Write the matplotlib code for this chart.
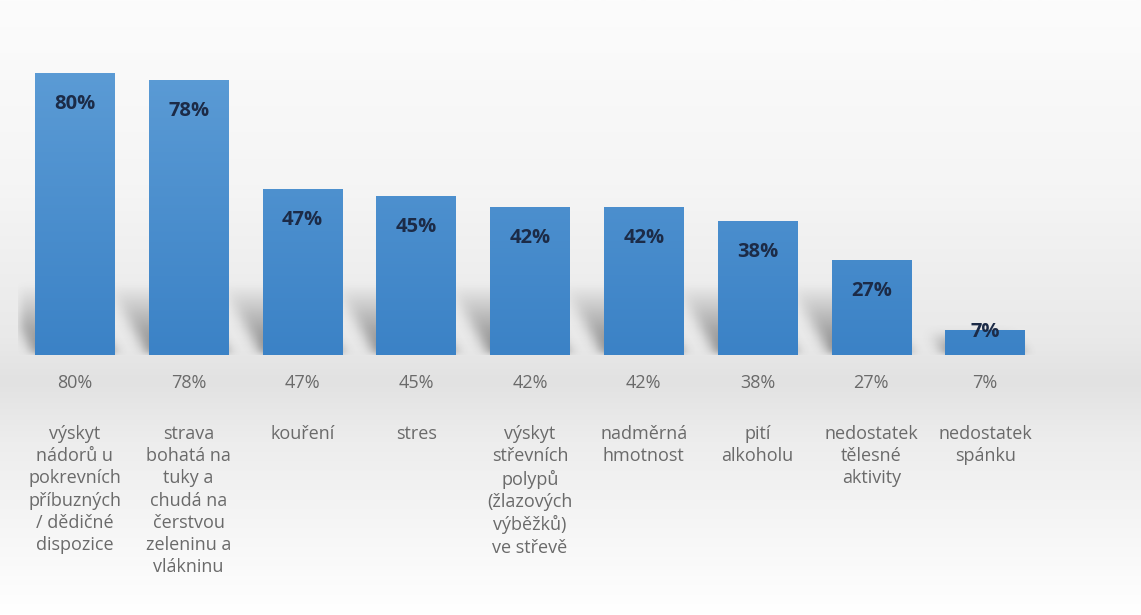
import matplotlib.pyplot as plt
import numpy as np
from matplotlib.colors import LinearSegmentedColormap

categories = [
    "výskyt\nnádorů u\npokrevních\npříbuzných\n/ dědičné\ndispozice",
    "strava\nbohatá na\ntuky a\nchudá na\nčerstvou\nzeleninu a\nvlákninu",
    "kouření",
    "stres",
    "výskyt\nstřevních\npolypů\n(žlazových\nvýběžků)\nve střevě",
    "nadměrná\nhmotnost",
    "pití\nalkoholu",
    "nedostatek\ntělesné\naktivity",
    "nedostatek\nspánku",
]
values = [80, 78, 47, 45, 42, 42, 38, 27, 7]

W, H, DPI = 1141, 615, 100
fig = plt.figure(figsize=(W / DPI, H / DPI), dpi=DPI)

# page background: light vertical gradient, darkest just under the bars
bg = fig.add_axes([0, 0, 1, 1], zorder=-10)
bg.set_axis_off()
stops = [(0.0, "#fcfcfc"), (0.3, "#f5f5f5"), (0.55, "#e9e9e9"), (0.62, "#e2e2e2"),
         (0.72, "#ededed"), (1.0, "#ffffff")]
bg_cmap = LinearSegmentedColormap.from_list("bg", stops)
bg.imshow(np.linspace(0, 1, 256).reshape(-1, 1), aspect="auto", cmap=bg_cmap,
          extent=[0, 1, 0, 1], vmin=0, vmax=1)
bg.set_xlim(0, 1)
bg.set_ylim(0, 1)

# plot area: y=0 sits at pixel row 355, 80 % reaches row 73
ax = fig.add_axes([18 / W, (H - 355) / H, (1042 - 18) / W, 352.5 / H])
ax.set_axis_off()
ax.patch.set_alpha(0)

x = np.arange(len(values))
bw = 0.70
bars = ax.bar(x, values, width=bw, color="#4a8fd2", zorder=3)

# soft shadows thrown up and to the left of each bar (blurred mask)
gx = np.linspace(-0.5, len(values) - 0.5, 900)
gy = np.linspace(0, 40, 400)
XX, YY = np.meshgrid(gx, gy)
mask = np.zeros_like(XX)
for xi, v in zip(x, values):
    s = min(20, v)
    shift = 0.36 * YY / 20
    inside = (YY <= s) & (XX >= xi - bw / 2 - shift) & (XX <= xi + bw / 2 - shift)
    fade = np.clip(1 - YY / s, 0, 1)
    mask = np.maximum(mask, inside * fade)


def box_blur(a, n, axis):
    k = np.ones(n) / n
    return np.apply_along_axis(lambda r: np.convolve(r, k, mode="same"), axis, a)


for _ in range(3):
    mask = box_blur(mask, 11, 1)
    mask = box_blur(mask, 21, 0)
shadow = np.zeros(mask.shape + (4,))
shadow[..., :3] = 0.32
shadow[..., 3] = np.clip(mask * 0.7, 0, 1)
ax.imshow(shadow, origin="lower", aspect="auto", zorder=1,
          extent=[gx[0], gx[-1], gy[0], gy[-1]])

# bar fill gradient, lighter at the top
bar_cmap = LinearSegmentedColormap.from_list("bar", ["#3b82c6", "#5b9bd5"])
grad = np.linspace(0, 1, 256).reshape(-1, 1)
for b in bars:
    x0 = b.get_x()
    im = ax.imshow(grad, aspect="auto", cmap=bar_cmap, origin="lower",
                   extent=[x0, x0 + b.get_width(), 0, 80], zorder=4)
    im.set_clip_path(b)

ax.set_xlim(-0.5, len(values) - 0.5)
ax.set_ylim(0, 100)

for xi, v in zip(x, values):
    off = -31 if v * 3.525 > 62 else -2
    ax.annotate(f"{v}%", xy=(xi, v), xytext=(0, off), textcoords="offset pixels",
                ha="center", va="center", fontsize=14.5, fontweight="bold",
                color="#1c2b47", family="Open Sans", zorder=6)
    ax.annotate(f"{v}%", xy=(xi, 0), xytext=(0, -28), textcoords="offset pixels",
                ha="center", va="center", fontsize=13, color="#6a6a6a",
                family="Open Sans", annotation_clip=False)

for xi, lab in zip(x, categories):
    ax.annotate(lab, xy=(xi, 0), xytext=(0, -70), textcoords="offset pixels",
                ha="center", va="top", fontsize=13, color="#6a6a6a",
                family="Open Sans", linespacing=1.3, annotation_clip=False)

fig.savefig("out.png", dpi=DPI)
